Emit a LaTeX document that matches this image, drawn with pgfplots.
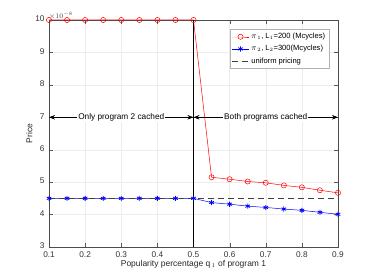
\documentclass[border=0pt]{standalone}
\usepackage{pgfplots}
\pgfplotsset{compat=1.18}
\usepackage{fontspec}
\setmainfont{Liberation Sans}
\usetikzlibrary{arrows.meta}
\begin{document}
\begin{tikzpicture}
\useasboundingbox (-49bp,-33bp) rectangle (325bp,247bp);
\begin{axis}[
  at={(0,0)}, anchor=south west,
  scale only axis, width=289bp, height=227bp,
  xmin=0.1, xmax=0.9, ymin=3, ymax=10,
  xtick={0.1,0.2,...,0.9}, ytick={3,4,...,10},
  xticklabels={0.1,0.2,0.3,0.4,0.5,0.6,0.7,0.8,0.9},
  yticklabels={3,4,5,6,7,8,9,10},
  tick align=inside, tick style={gray!70!black},
  grid=major, grid style={gray!15},
  axis line style={gray!60!black},
  ticklabel style={font=\fontsize{8.3}{9}\selectfont, text=black!80},
  xticklabel style={yshift=-1pt},
  yticklabel style={xshift=-1pt, yshift=1pt},
  xlabel={Popularity percentage q$_{\,1}$ of program 1},
  ylabel={Price},
  label style={font=\fontsize{8.5}{10}\selectfont, text=black!85},
  xlabel style={yshift=4pt},
  ylabel style={yshift=-4pt},
  legend style={at={(0.97,0.96)}, anchor=north east, font=\fontsize{7.6}{9}\selectfont, draw=gray!60, row sep=1.2pt, inner sep=2pt},
  legend cell align=left,
  clip=false,
]
\addplot[red, mark=o, mark size=2.6pt, line width=0.5pt] coordinates {
(0.1,10)(0.15,10)(0.2,10)(0.25,10)(0.3,10)(0.35,10)(0.4,10)(0.45,10)(0.5,10)
(0.55,5.15)(0.6,5.09)(0.65,5.02)(0.7,4.98)(0.75,4.90)(0.8,4.84)(0.85,4.75)(0.9,4.67)};
\addlegendentry{$\pi_{\,1}$, L$_1$=200 (Mcycles)}
\addplot[blue, mark=asterisk, mark size=2.6pt, line width=0.5pt, mark options={line width=0.8pt}] coordinates {
(0.1,4.5)(0.15,4.5)(0.2,4.5)(0.25,4.5)(0.3,4.5)(0.35,4.5)(0.4,4.5)(0.45,4.5)(0.5,4.5)
(0.55,4.37)(0.6,4.32)(0.65,4.26)(0.7,4.22)(0.75,4.17)(0.8,4.13)(0.85,4.07)(0.9,4.01)};
\addlegendentry{$\pi_{\,2}$, L$_2$=300(Mcycles)}
\addplot[black!75, dash pattern=on 6pt off 4pt, line width=0.6pt] coordinates {(0.1,4.5)(0.9,4.5)};
\addlegendentry{uniform pricing}
\addplot[black, line width=1pt, forget plot] coordinates {(0.5,3)(0.5,10)};
\draw[{Stealth[length=6pt]}-{Stealth[length=6pt]}, line width=0.5pt] (axis cs:0.1,7) -- (axis cs:0.5,7) node[midway, fill=white, inner sep=1pt, font=\fontsize{8.3}{9}\selectfont] {Only program 2 cached};
\draw[{Stealth[length=6pt]}-{Stealth[length=6pt]}, line width=0.5pt] (axis cs:0.5,7) -- (axis cs:0.9,7) node[midway, fill=white, inner sep=1pt, font=\fontsize{8.3}{9}\selectfont] {Both programs cached};
\node[anchor=south west, font=\fontsize{7.5}{8}\selectfont, text=black!75, inner sep=0pt] at (rel axis cs:0,1) {$\times 10^{-8}$};
\end{axis}
\end{tikzpicture}
\end{document}
